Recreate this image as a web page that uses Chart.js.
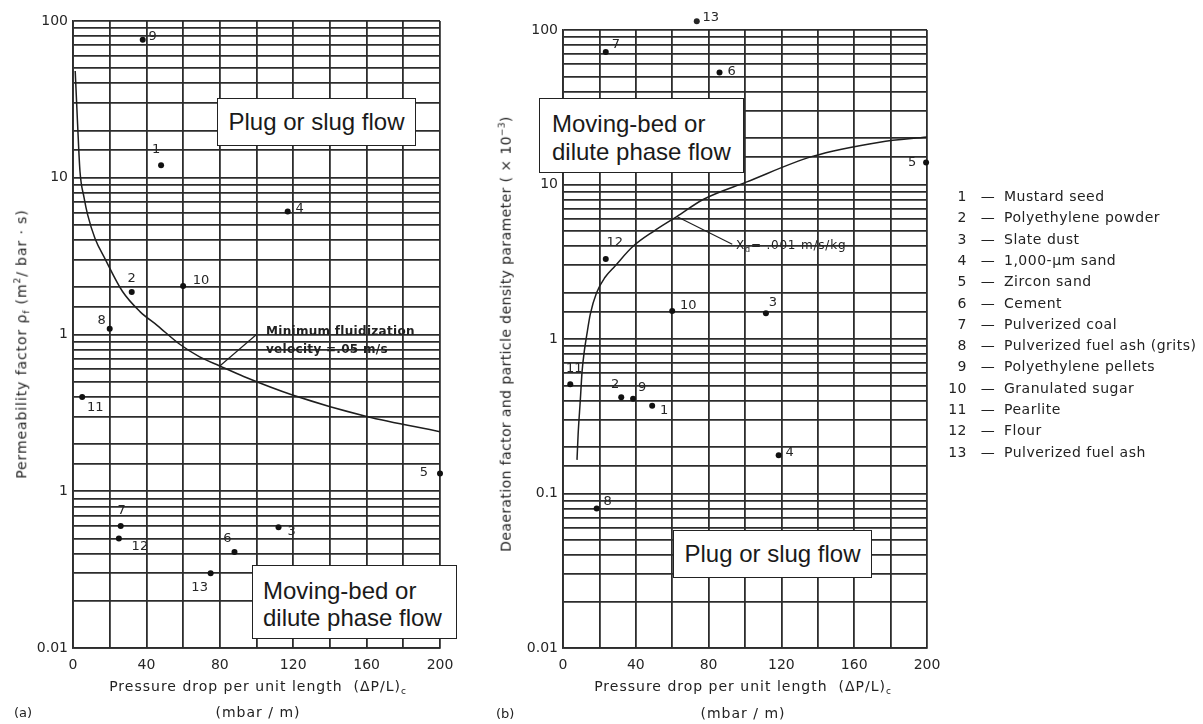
<!DOCTYPE html>
<html>
<head>
<meta charset="utf-8">
<title>Permeability and deaeration factors vs pressure drop</title>
<script src="https://cdn.jsdelivr.net/npm/chart.js@4.4.1/dist/chart.umd.min.js"></script>
<style>
  body { margin: 0; background: #fff; }
  #page { position: relative; width: 1203px; height: 724px; overflow: hidden;
          font-family: "DejaVu Sans", sans-serif; color: #222; }
  canvas { position: absolute; top: 0; }
  .box { position: absolute; box-sizing: border-box; background: #fff; border: 1.5px solid #222;
         font: 24px "Liberation Sans", Arial, sans-serif; color: #1a1a1a; white-space: nowrap; }
  .ytitle { position: absolute; white-space: nowrap; font-size: 14px;
            transform: translate(-50%, -50%) rotate(-90deg); }
  .xtitle { position: absolute; white-space: nowrap; font-size: 14px; letter-spacing: 1px;
            transform: translate(-50%, -50%); }
  .tag { position: absolute; font-size: 13px; transform: translateY(-50%); }
  .note { position: absolute; white-space: nowrap; font-size: 12px; transform: translateY(-50%); }
  #legend { position: absolute; left: 940px; top: 0; font-size: 14px; letter-spacing: 0.5px; }
  #legend div { position: absolute; white-space: nowrap; transform: translateY(-50%); }
  #legend .num { width: 27px; text-align: right; display: inline-block; }
  #legend .dash { display: inline-block; width: 26px; text-align: center; margin-left: 8px; margin-right: 3px; }
</style>
</head>
<body>
<div id="page">
  <canvas id="chartA" width="480" height="724" style="left:0"></canvas>
  <canvas id="chartB" width="470" height="724" style="left:480px"></canvas>

  <div class="ytitle" style="left:22px; top:344px; letter-spacing:0.9px">Permeability factor &rho;<sub style="font-size:9px">f</sub> (m<sup style="font-size:9px">2</sup>/ bar &middot; s)</div>
  <div class="ytitle" style="left:505px; top:334px; letter-spacing:0.4px">Deaeration factor and particle density parameter ( &times; 10<sup style="font-size:9px">&minus;3</sup>)</div>

  <div class="xtitle" style="left:258px; top:687px">Pressure drop per unit length&nbsp;&nbsp;(&Delta;P/L)<sub style="font-size:9px">c</sub></div>
  <div class="xtitle" style="left:258px; top:712px">(mbar / m)</div>
  <div class="xtitle" style="left:743px; top:687px">Pressure drop per unit length&nbsp;&nbsp;(&Delta;P/L)<sub style="font-size:9px">c</sub></div>
  <div class="xtitle" style="left:743px; top:713px">(mbar / m)</div>
  <div class="tag" style="left:14px; top:712px">(a)</div>
  <div class="tag" style="left:496px; top:713px">(b)</div>

  <div class="note" style="left:266px; top:331px; font-weight:bold; letter-spacing:0.3px">Minimum fluidization</div>
  <div class="note" style="left:266px; top:349px; font-weight:bold; letter-spacing:0.3px">velocity =.05 m/s</div>
  <div class="note" style="left:736px; top:246px; letter-spacing:0.8px">X<sub style="font-size:8px">d</sub>= .001 m/s/kg</div>

  <div class="box" style="left:217px; top:98px; width:199px; height:48px; line-height:45px; text-align:center">Plug or slug flow</div>
  <div class="box" style="left:252px; top:565px; width:205px; height:74px; line-height:27px; padding:11px 0 0 10px">Moving-bed or<br>dilute phase flow</div>
  <div class="box" style="left:539px; top:98px; width:205px; height:75px; line-height:28px; padding:11px 0 0 12px">Moving-bed or<br>dilute phase flow</div>
  <div class="box" style="left:673px; top:530px; width:199px; height:48px; line-height:45px; text-align:center">Plug or slug flow</div>

  <div id="legend"></div>
</div>

<script>
// Sample numbers and names (shared by both panels and the legend)
const sampleIds = ['1', '2', '3', '4', '5', '6', '7', '8', '9', '10', '11', '12', '13'];
const sampleNames = [
  'Mustard seed', 'Polyethylene powder', 'Slate dust', '1,000-\u03bcm sand', 'Zircon sand',
  'Cement', 'Pulverized coal', 'Pulverized fuel ash (grits)', 'Polyethylene pellets',
  'Granulated sugar', 'Pearlite', 'Flour', 'Pulverized fuel ash'
];

// Panel (a): permeability factor vs pressure drop
const pressureA = [48, 32, 112, 117, 200, 88, 26, 20, 38, 60, 5, 25, 75];
const permeabilityA = [12, 1.87, 0.059, 6.1, 0.13, 0.041, 0.06, 1.09, 76, 2.04, 0.4, 0.05, 0.03];

// Minimum fluidization velocity line (.05 m/s)
const fluidCurveX = [1.2, 2.5, 3.8, 6, 8, 12, 17.4, 27, 36.5, 46, 58, 69, 80, 93, 120, 160, 200];
const fluidCurveY = [48, 22, 11, 7.5, 5.8, 4.1, 3.05, 1.88, 1.4, 1.14, 0.87, 0.72, 0.63, 0.54, 0.41, 0.3, 0.24];
const fluidLeaderX = [80, 100];
const fluidLeaderY = [0.63, 1.0];

// Panel (b): deaeration factor vs pressure drop
const pressureB = [49, 32, 111.5, 118.5, 199.5, 86, 23.5, 18.5, 38.5, 60, 4, 23.5, 73.5];
const deaerationB = [0.37, 0.42, 1.47, 0.177, 13.9, 53, 72, 0.08, 0.41, 1.52, 0.51, 3.3, 114];

// X_d = .001 m/s/kg line
const xdCurveX = [7.7, 8.3, 9.5, 10.5, 11.8, 13, 15, 18.5, 23, 28.5, 38.5, 50, 62.5, 77, 101, 137, 174, 200];
const xdCurveY = [0.165, 0.24, 0.4, 0.62, 0.85, 1.05, 1.45, 2.0, 2.5, 2.96, 3.98, 5.0, 6.2, 8.0, 10.4, 15.2, 18.8, 20.3];
const xdLeaderX = [62.5, 93];
const xdLeaderY = [6.2, 4.1];

// Tick labels (panel a repeats "1" at the 0.1 decade, as printed)
const xTickLabels = [0, 40, 80, 120, 160, 200];
const yTickLabelsA = ['0.01', '1', '1', '10', '100'];
const yTickLabelsB = ['0.01', '0.1', '1', '10', '100'];

// Where each sample number sits relative to its marker [dx, dy]
const labelOffsetA = [[-5, -16], [0, -13], [13, 4], [12, -3], [-16, -1], [-7, -13], [1, -15],
                      [-8, -8], [10, -3], [18, -5], [13, 11], [21, 8], [-11, 14]];
const labelOffsetB = [[12, 5], [-6, -13], [7, -11], [11, -3], [-14, 0], [12, -1], [10, -7],
                      [11, -7], [9, -11], [16, -5], [4, -16], [9, -16], [14, -4]];

const INK = '#262626';
Chart.defaults.font.family = '"DejaVu Sans", sans-serif';
Chart.defaults.color = INK;

const toPoints = (xs, ys) => xs.map((x, i) => ({ x, y: ys[i] }));

// Draw the sample number next to every marker of dataset 0
// (Chart.js skips markers outside the plot area, so those get drawn here too)
const pointLabels = {
  id: 'pointLabels',
  afterDatasetsDraw(chart, args, opts) {
    const ctx = chart.ctx;
    const area = chart.chartArea;
    const meta = chart.getDatasetMeta(0);
    ctx.save();
    ctx.font = '13px "DejaVu Sans", sans-serif';
    ctx.fillStyle = INK;
    ctx.textAlign = 'center';
    ctx.textBaseline = 'middle';
    meta.data.forEach((pt, i) => {
      if (pt.y < area.top - 1 || pt.y > area.bottom + 1) {
        ctx.beginPath();
        ctx.arc(pt.x, pt.y, 3, 0, Math.PI * 2);
        ctx.fill();
      }
      const [dx, dy] = opts.offsets[i];
      ctx.fillText(opts.labels[i], pt.x + dx, pt.y + dy);
    });
    ctx.restore();
  }
};

function buildPanel(canvasId, cfg) {
  return new Chart(document.getElementById(canvasId), {
    type: 'scatter',
    data: {
      datasets: [
        {
          data: toPoints(cfg.xs, cfg.ys),
          pointStyle: 'circle', pointRadius: 3, backgroundColor: '#111', borderWidth: 0,
          clip: false
        },
        {
          data: toPoints(cfg.curveX, cfg.curveY),
          showLine: true, pointRadius: 0, borderColor: '#1e1e1e', borderWidth: 1.5,
          cubicInterpolationMode: 'monotone', fill: false
        },
        {
          data: toPoints(cfg.leaderX, cfg.leaderY),
          showLine: true, pointRadius: 0, borderColor: '#1e1e1e', borderWidth: 1.2, tension: 0
        }
      ]
    },
    options: {
      responsive: false,
      animation: false,
      layout: { padding: { left: 0, right: cfg.padRight, top: cfg.padTop, bottom: 0 } },
      plugins: {
        legend: { display: false },
        tooltip: { enabled: false },
        pointLabels: { labels: sampleIds, offsets: cfg.offsets }
      },
      scales: {
        x: {
          type: 'linear', min: 0, max: 200,
          afterFit: s => { s.height = 76; },
          grid: { color: '#2c2c2c', lineWidth: 1.8, drawTicks: false },
          border: { color: '#2c2c2c', width: 1.8 },
          ticks: {
            stepSize: 20, autoSkip: false, maxRotation: 0, padding: 9,
            font: { size: 14 },
            callback: v => xTickLabels.includes(v) ? String(v) : ''
          }
        },
        y: {
          type: 'logarithmic', min: 0.01, max: 100,
          afterFit: s => { s.width = cfg.axisWidth; },
          grid: { color: '#2c2c2c', lineWidth: 1.8, drawTicks: false },
          border: { color: '#2c2c2c', width: 1.8 },
          ticks: {
            autoSkip: false, padding: 5,
            font: { size: 14 },
            callback: v => {
              const e = Math.log10(v);
              if (Math.abs(e - Math.round(e)) > 1e-6) return '';
              return cfg.yTicks[Math.round(e) + 2];
            }
          }
        }
      }
    },
    plugins: [pointLabels]
  });
}

buildPanel('chartA', {
  xs: pressureA, ys: permeabilityA,
  curveX: fluidCurveX, curveY: fluidCurveY,
  leaderX: fluidLeaderX, leaderY: fluidLeaderY,
  offsets: labelOffsetA, yTicks: yTickLabelsA,
  axisWidth: 73, padRight: 40, padTop: 21
});

buildPanel('chartB', {
  xs: pressureB, ys: deaerationB,
  curveX: xdCurveX, curveY: xdCurveY,
  leaderX: xdLeaderX, leaderY: xdLeaderY,
  offsets: labelOffsetB, yTicks: yTickLabelsB,
  axisWidth: 83, padRight: 23, padTop: 30
});

// Legend: number — sample name
const legend = document.getElementById('legend');
sampleNames.forEach((name, i) => {
  const row = document.createElement('div');
  row.style.top = (196 + i * 21.3) + 'px';
  row.innerHTML = `<span class="num">${sampleIds[i]}</span><span class="dash">\u2014</span>${name}`;
  legend.appendChild(row);
});
</script>
</body>
</html>
